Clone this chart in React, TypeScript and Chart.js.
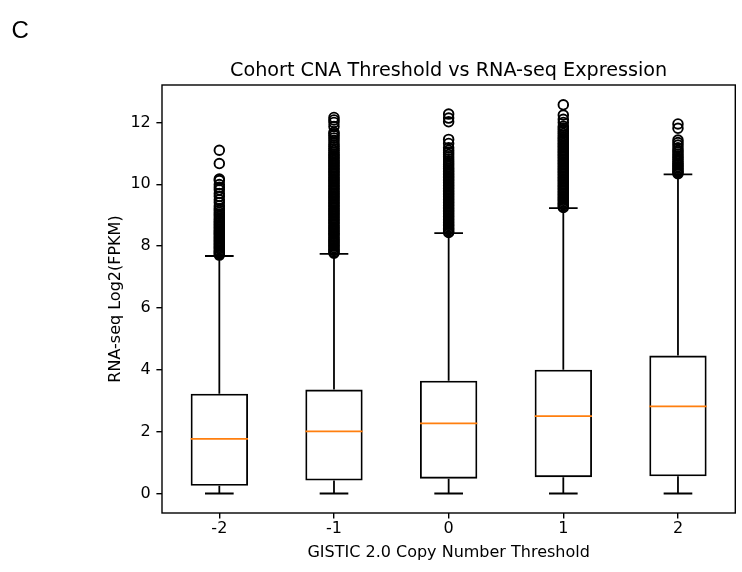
import React, { useEffect, useRef } from "react";
import { Chart, registerables } from "chart.js";

Chart.register(...registerables);

// ---------- data ----------
const CATEGORIES = ["-2", "-1", "0", "1", "2"];
const POSITIONS = [1, 2, 3, 4, 5];
const Q1 = [0.25, 0.42, 0.48, 0.53, 0.56];
const MEDIAN = [1.77, 2.01, 2.27, 2.5, 2.82];
const Q3 = [3.23, 3.36, 3.65, 4.0, 4.46];
const WHISKER_LO = [0, 0, 0, 0, 0];
const WHISKER_HI = [7.68, 7.75, 8.42, 9.23, 10.32];
const Y_TICKS = [0, 2, 4, 6, 8, 10, 12];

const OUTLIERS_NEG2 = [
  7.71, 7.75, 7.79, 7.83, 7.87, 7.92, 7.96, 8.0, 8.05, 8.09, 8.14, 8.18, 8.23, 8.27, 8.32, 8.37,
  8.41, 8.46, 8.5, 8.55, 8.6, 8.65, 8.7, 8.75, 8.8, 8.85, 8.91, 8.97, 9.03, 9.09, 9.16, 9.22,
  9.3, 9.41, 9.5, 9.61, 9.7, 9.82, 9.9, 9.99, 10.12, 10.17, 10.67, 11.1,
];
const OUTLIERS_NEG1 = [
  7.77, 7.81, 7.86, 7.9, 7.95, 8.0, 8.04, 8.09, 8.14, 8.18, 8.23, 8.28, 8.33, 8.38, 8.42, 8.47,
  8.52, 8.57, 8.62, 8.67, 8.72, 8.77, 8.82, 8.87, 8.92, 8.97, 9.02, 9.07, 9.12, 9.17, 9.22, 9.27,
  9.32, 9.37, 9.42, 9.47, 9.52, 9.57, 9.62, 9.67, 9.72, 9.77, 9.82, 9.87, 9.92, 9.97, 10.02, 10.07,
  10.12, 10.17, 10.22, 10.27, 10.32, 10.37, 10.42, 10.47, 10.52, 10.57, 10.62, 10.67, 10.72, 10.77,
  10.82, 10.87, 10.92, 10.97, 11.03, 11.09, 11.15, 11.21, 11.27, 11.34, 11.42, 11.5, 11.57, 11.63,
  11.68, 11.87, 12.0, 12.08, 12.16,
];
const OUTLIERS_ZERO = [
  8.44, 8.48, 8.53, 8.57, 8.62, 8.67, 8.71, 8.76, 8.81, 8.86, 8.91, 8.96, 9.01, 9.06, 9.11, 9.16,
  9.21, 9.26, 9.31, 9.36, 9.41, 9.46, 9.51, 9.56, 9.61, 9.66, 9.71, 9.76, 9.81, 9.86, 9.91, 9.96,
  10.01, 10.06, 10.11, 10.16, 10.21, 10.26, 10.31, 10.36, 10.41, 10.46, 10.51, 10.57, 10.63, 10.69,
  10.75, 10.82, 10.89, 10.96, 11.03, 11.1, 11.18, 11.32, 11.45, 12.02, 12.14, 12.27,
];
const OUTLIERS_POS1 = [
  9.25, 9.29, 9.34, 9.38, 9.43, 9.48, 9.52, 9.57, 9.62, 9.67, 9.72, 9.77, 9.82, 9.87, 9.92, 9.97,
  10.02, 10.07, 10.12, 10.17, 10.22, 10.27, 10.32, 10.37, 10.42, 10.47, 10.52, 10.57, 10.62, 10.67,
  10.72, 10.77, 10.82, 10.87, 10.92, 10.97, 11.02, 11.07, 11.12, 11.17, 11.22, 11.27, 11.32, 11.37,
  11.42, 11.47, 11.52, 11.58, 11.64, 11.7, 11.76, 11.82, 11.88, 12.0, 12.1, 12.24, 12.57,
];
const OUTLIERS_POS2 = [
  10.34, 10.38, 10.42, 10.47, 10.52, 10.57, 10.62, 10.67, 10.73, 10.79, 10.85, 10.91, 10.97, 11.04,
  11.1, 11.18, 11.27, 11.35, 11.43, 11.81, 11.95,
];
const OUTLIERS = [OUTLIERS_NEG2, OUTLIERS_NEG1, OUTLIERS_ZERO, OUTLIERS_POS1, OUTLIERS_POS2];

const TITLE = "Cohort CNA Threshold vs RNA-seq Expression";
const X_LABEL = "GISTIC 2.0 Copy Number Threshold";
const Y_LABEL = "RNA-seq Log2(FPKM)";
const PANEL_LABEL = "C";

// ---------- style constants ----------
const BOX_HALF = 0.25; // half box width in x units
const CAP_HALF = 0.125; // half cap width in x units
const LINE_W = 1.8;
const AXIS_W = 1.4;
const MEDIAN_COLOR = "#ff7f0e";
const FONT = "DejaVu Sans";

export default function App() {
  const canvasRef = useRef<HTMLCanvasElement | null>(null);

  useEffect(() => {
    const canvas = canvasRef.current;
    if (!canvas) return;

    const whiskerData: any[] = [];
    const capData: any[] = [];
    const medianData: any[] = [];
    const outlierData: any[] = [];
    POSITIONS.forEach((x, i) => {
      whiskerData.push({ x, y: Q3[i] }, { x, y: WHISKER_HI[i] }, { x, y: null });
      whiskerData.push({ x, y: Q1[i] }, { x, y: WHISKER_LO[i] }, { x, y: null });
      capData.push({ x: x - CAP_HALF, y: WHISKER_HI[i] }, { x: x + CAP_HALF, y: WHISKER_HI[i] }, { x, y: null });
      capData.push({ x: x - CAP_HALF, y: WHISKER_LO[i] }, { x: x + CAP_HALF, y: WHISKER_LO[i] }, { x, y: null });
      medianData.push({ x: x - BOX_HALF, y: MEDIAN[i] }, { x: x + BOX_HALF, y: MEDIAN[i] }, { x, y: null });
      OUTLIERS[i].forEach((v) => outlierData.push({ x, y: v }));
    });

    const framePlugin = {
      id: "frame",
      afterDatasetsDraw(chart: any) {
        const { ctx, chartArea } = chart;
        ctx.save();
        ctx.strokeStyle = "#000";
        ctx.lineWidth = AXIS_W;
        ctx.strokeRect(chartArea.left, chartArea.top, chartArea.right - chartArea.left, chartArea.bottom - chartArea.top);
        ctx.restore();
      },
      afterDraw(chart: any) {
        const { ctx } = chart;
        ctx.save();
        ctx.fillStyle = "#000";
        ctx.font = '24px "Liberation Sans"';
        ctx.textBaseline = "alphabetic";
        ctx.textAlign = "left";
        ctx.fillText(PANEL_LABEL, 11.5, 37.5);
        ctx.restore();
      },
    };

    const chart = new Chart(canvas, {
      type: "bar",
      data: {
        datasets: [
          {
            type: "scatter",
            data: outlierData,
            pointStyle: "circle",
            pointRadius: 4.8,
            pointHoverRadius: 4.8,
            backgroundColor: "rgba(0,0,0,0)",
            borderColor: "#000",
            borderWidth: 1.9,
            order: 1,
          } as any,
          {
            type: "line",
            data: medianData,
            borderColor: MEDIAN_COLOR,
            borderWidth: LINE_W,
            pointRadius: 0,
            spanGaps: false,
            fill: false,
            order: 2,
          } as any,
          {
            type: "line",
            data: capData,
            borderColor: "#000",
            borderWidth: LINE_W,
            pointRadius: 0,
            spanGaps: false,
            fill: false,
            order: 3,
          } as any,
          {
            type: "line",
            data: whiskerData,
            borderColor: "#000",
            borderWidth: LINE_W,
            pointRadius: 0,
            spanGaps: false,
            fill: false,
            order: 4,
          } as any,
          {
            type: "bar",
            data: POSITIONS.map((x, i) => ({ x, y: [Q1[i], Q3[i]] })),
            backgroundColor: "rgba(0,0,0,0)",
            borderColor: "#000",
            borderWidth: LINE_W,
            borderSkipped: false,
            inflateAmount: 0,
            barPercentage: 0.5,
            categoryPercentage: 1,
            order: 5,
          } as any,
        ],
      },
      options: {
        responsive: false,
        animation: false,
        devicePixelRatio: 1,
        events: [],
        layout: { padding: { left: 100, right: 6, top: 0, bottom: 0 } },
        plugins: {
          legend: { display: false },
          tooltip: { enabled: false },
          title: {
            display: true,
            text: TITLE,
            fullSize: false,
            color: "#000",
            font: { family: FONT, size: 19.2, weight: "normal", lineHeight: 1.2 },
            padding: { top: 59.5, bottom: 2.46 },
          },
        },
        scales: {
          x: {
            type: "linear",
            min: 0.5,
            max: 5.5,
            offset: false,
            afterFit: (scale: any) => {
              scale.height = 59;
            },
            afterBuildTicks: (scale: any) => {
              scale.ticks = POSITIONS.map((v) => ({ value: v }));
            },
            ticks: {
              color: "#000",
              font: { family: FONT, size: 16 },
              padding: 0.5,
              maxRotation: 0,
              autoSkip: false,
              callback: (v: any) => CATEGORIES[POSITIONS.indexOf(Number(v))],
            },
            grid: {
              display: true,
              offset: false,
              drawOnChartArea: false,
              drawTicks: true,
              tickLength: 5.6,
              color: "#000",
              lineWidth: AXIS_W,
            },
            border: { display: false },
            title: {
              display: true,
              text: X_LABEL,
              color: "#000",
              font: { family: FONT, size: 16, lineHeight: 1.2 },
              padding: { top: 0, bottom: 9.4 },
            },
          },
          y: {
            type: "linear",
            min: -0.63,
            max: 13.21,
            afterFit: (scale: any) => {
              scale.width = 62;
            },
            afterBuildTicks: (scale: any) => {
              scale.ticks = Y_TICKS.map((v) => ({ value: v }));
            },
            ticks: {
              color: "#000",
              font: { family: FONT, size: 16 },
              padding: 5.6,
              callback: (v: any) => String(v),
            },
            grid: {
              display: true,
              drawOnChartArea: false,
              drawTicks: true,
              tickLength: 5.6,
              color: "#000",
              lineWidth: AXIS_W,
            },
            border: { display: false },
            title: {
              display: true,
              text: Y_LABEL,
              color: "#000",
              font: { family: FONT, size: 16, lineHeight: 1.2 },
              padding: { top: 6.4, bottom: 0 },
            },
          },
        },
      } as any,
      plugins: [framePlugin],
    });

    return () => chart.destroy();
  }, []);

  return (
    <div style={{ position: "fixed", left: 0, top: 0, width: 742, height: 572, background: "#fff" }}>
      <canvas ref={canvasRef} width={742} height={572} style={{ display: "block", width: 742, height: 572 }} />
    </div>
  );
}
